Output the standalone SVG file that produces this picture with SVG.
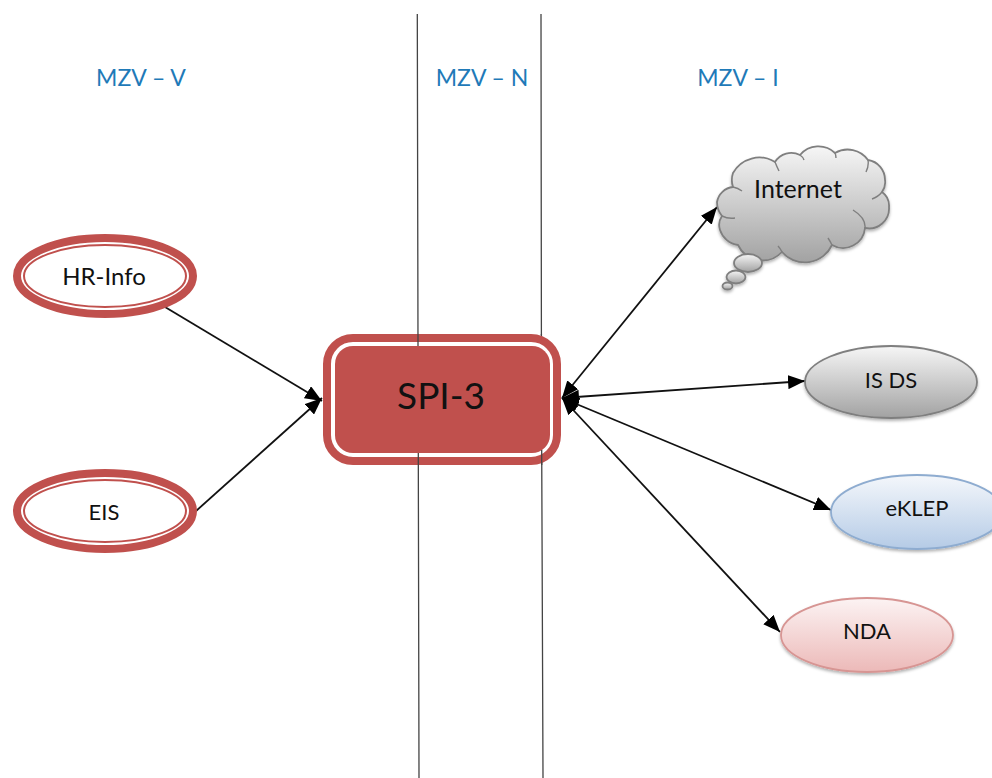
<svg xmlns="http://www.w3.org/2000/svg" width="992" height="778" viewBox="0 0 992 778">
<style>
text{font-family:"Lato","Open Sans","Liberation Sans",sans-serif;fill:#111;text-anchor:middle}
.zone{fill:#1f7ab8;font-size:23px}
.lbl{font-size:22px}
.sep{stroke:#444;stroke-width:1.3;fill:none}
.conn{stroke:#111;stroke-width:1.8;fill:none}
.ring{fill:#fff;stroke:#c0504d;stroke-width:8}
.ringin{fill:none;stroke:#c0504d;stroke-width:2}
</style>
<defs>
<marker id="arr" markerUnits="userSpaceOnUse" markerWidth="18" markerHeight="14" refX="17" refY="7" orient="auto-start-reverse"><path d="M0 0L17 7L0 14Z" fill="#000"/></marker>
<linearGradient id="gGray" x1="0" y1="0" x2="0" y2="1"><stop offset="0" stop-color="#f6f6f6"/><stop offset="1" stop-color="#a2a2a2"/></linearGradient>
<linearGradient id="gBlue" x1="0" y1="0" x2="0" y2="1"><stop offset="0" stop-color="#f4f7fb"/><stop offset="1" stop-color="#b5cbe6"/></linearGradient>
<linearGradient id="gRed" x1="0" y1="0" x2="0" y2="1"><stop offset="0" stop-color="#fcf3f3"/><stop offset="1" stop-color="#ecb9b8"/></linearGradient>
<filter id="sh" x="-10%" y="-10%" width="120%" height="125%"><feDropShadow dx="0" dy="2" stdDeviation="1.5" flood-color="#000" flood-opacity="0.3"/></filter>
</defs>
<g id="separators">
<path class="sep" d="M417.3 14L418 346M418.3 453L419 778"/>
<path class="sep" d="M541 14L541.4 335M541.7 450L543 778"/>
</g>
<g id="zones">
<text class="zone" x="141" y="86">MZV – V</text>
<text class="zone" x="482" y="86">MZV – N</text>
<text class="zone" x="738" y="86">MZV – I</text>
</g>
<g id="connectors">
<path class="conn" marker-end="url(#arr)" d="M165 307L322 401"/>
<path class="conn" marker-end="url(#arr)" d="M196 511L322 398"/>
<path class="conn" marker-start="url(#arr)" marker-end="url(#arr)" d="M562 398L717 207"/>
<path class="conn" marker-start="url(#arr)" marker-end="url(#arr)" d="M562 398L805 381"/>
<path class="conn" marker-start="url(#arr)" marker-end="url(#arr)" d="M562 398L831 510"/>
<path class="conn" marker-start="url(#arr)" marker-end="url(#arr)" d="M562 398L780 632"/>
</g>
<g id="hr-info">
<ellipse class="ring" cx="105" cy="276" rx="88" ry="38"/>
<ellipse class="ringin" cx="105" cy="276" rx="81" ry="31"/>
<text class="lbl" x="104" y="285" style="font-size:24px">HR-Info</text>
</g>
<g id="eis">
<ellipse class="ring" cx="105" cy="511" rx="88" ry="38"/>
<ellipse class="ringin" cx="105" cy="511" rx="81" ry="31"/>
<text class="lbl" x="104" y="520">EIS</text>
</g>
<g id="spi-3">
<rect x="327" y="338" width="230" height="123" rx="26" fill="#fff" stroke="#c0504d" stroke-width="8"/>
<rect x="335" y="346" width="215" height="107" rx="18" fill="#c0504d"/>
<path class="sep" d="M418 334V346M418.3 453V465M541.4 334V336M541.700 450V465"/>
<text x="441" y="409" font-size="37">SPI-3</text>
</g>
<g id="internet">
<g filter="url(#sh)" fill="url(#gGray)" stroke="#7f7f7f" stroke-width="1.8">
<path d="M717 202A18 18 0 0 1 733 187A22 22 0 0 1 733 173A30 30 0 0 1 775 162A19 19 0 0 1 800 155A24 24 0 0 1 835 153A25 25 0 0 1 868 160A20 20 0 0 1 885 180Q886 186 882 192A17 17 0 0 1 889 207A20 20 0 0 1 865 228A22 22 0 0 1 832 245A30 30 0 0 1 782 252A27 27 0 0 1 738 245A22 22 0 0 1 720 230A16 16 0 0 1 722 216Q717 210 717 202Z"/>
<ellipse cx="748" cy="263" rx="14" ry="9"/>
<ellipse cx="736" cy="277" rx="9.500" ry="6.500"/>
<ellipse cx="727.500" cy="286" rx="5" ry="3.500"/>
</g>
<path fill="none" stroke="#7f7f7f" stroke-width="1.4" d="M722 216Q728 219 735 218M733 187Q738 188 742 191M775 162Q777 167 779 171M800 155Q803 157 804 160M835 153Q836 155 836 158M868 160Q869 166 866 172M882 192Q878 197 872 199M865 228Q866 218 853 210M832 245Q830 241 828 238M782 252Q780 248 778 246"/>
<text class="lbl" x="798" y="198" style="font-size:25px">Internet</text>
</g>
<g id="is-ds">
<ellipse cx="891" cy="382" rx="86" ry="36" fill="url(#gGray)" stroke="#7f7f7f" stroke-width="1.8" filter="url(#sh)"/>
<text class="lbl" x="891" y="388">IS DS</text>
</g>
<g id="eklep">
<ellipse cx="917" cy="512" rx="86" ry="37" fill="url(#gBlue)" stroke="#8eacd0" stroke-width="1.8" filter="url(#sh)"/>
<text class="lbl" x="917" y="516">eKLEP</text>
</g>
<g id="nda">
<ellipse cx="867" cy="635" rx="86" ry="37" fill="url(#gRed)" stroke="#d79593" stroke-width="1.8" filter="url(#sh)"/>
<text class="lbl" x="867" y="639">NDA</text>
</g>
</svg>
